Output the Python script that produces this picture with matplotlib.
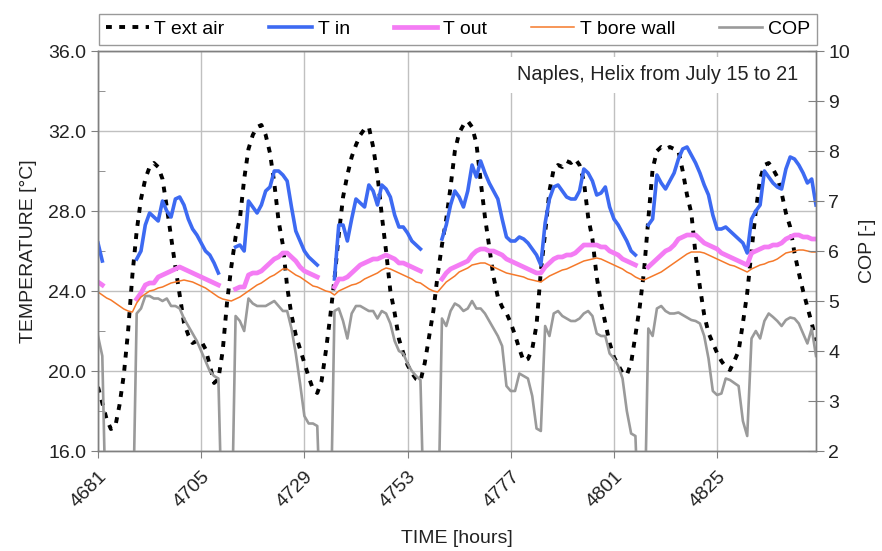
import numpy as np
import matplotlib.pyplot as plt
from matplotlib.ticker import MultipleLocator

plt.rcParams['font.family'] = ['Liberation Sans', 'DejaVu Sans']

nan = np.nan

# hourly values, 4681 .. 4848
hours = np.arange(4681, 4849)

t_ext_air = [
    19.2, 18.4, 17.6, 17.1, 17.2, 18.3, 19.8, 22.0, 24.8, 27.0, 28.6, 29.6,
    30.2, 30.4, 30.2, 29.6, 28.2, 26.7, 25.2, 23.8, 22.4, 21.8, 21.4, 21.5,
    21.5, 21.1, 20.3, 19.4, 19.6, 21.0, 23.4, 25.2, 26.7, 27.6, 29.6, 31.1,
    31.8, 32.2, 32.3, 31.8, 30.9, 29.4, 27.5, 26.3, 24.2, 22.8, 21.8, 21.1,
    20.4, 19.7, 19.1, 18.9, 19.5, 21.0, 22.7, 24.6, 26.8, 28.7, 29.8, 30.7,
    31.3, 31.8, 32.1, 32.2, 31.2, 29.8, 27.8, 26.0, 24.0, 22.9, 21.6, 20.9,
    20.3, 19.9, 19.6, 19.5, 20.4, 21.7, 23.0, 24.8, 26.3, 27.6, 29.2, 31.0,
    31.9, 32.3, 32.5, 32.2, 31.4, 29.5, 27.7, 26.2, 24.7, 23.7, 23.2, 22.9,
    22.4, 21.8, 21.1, 20.5, 20.6, 21.1, 22.3, 25.0, 26.9, 29.0, 30.1, 30.3,
    30.2, 30.5, 30.4, 30.6, 30.3, 29.5, 27.7, 26.6, 24.7, 23.4, 22.4, 21.4,
    20.7, 20.3, 19.9, 19.8, 20.4, 21.8, 23.2, 25.0, 27.6, 30.1, 31.0, 31.2,
    31.1, 31.2, 31.1, 31.0, 30.0, 28.8, 27.9, 25.8, 24.2, 22.8, 21.9, 21.4,
    20.9, 20.5, 20.2, 20.05, 20.5, 21.0, 22.4, 23.9, 26.0, 28.0, 29.6, 30.3,
    30.4, 30.1, 29.7, 28.9, 27.9, 27.2, 25.9, 24.9, 24.0, 23.2, 22.4, 21.5,
]

# heat pump off -> no value
t_in = [
    26.4, 25.5, nan, nan, nan, nan, nan, nan, nan, 25.6, 26.0, 27.3,
    27.9, 27.7, 27.5, 28.5, 28.0, 27.7, 28.6, 28.7, 28.3, 27.6, 27.1, 26.8,
    26.4, 26.0, 25.8, 25.4, 24.9, nan, nan, nan, 26.2, 26.3, 26.0, 28.5,
    28.2, 27.9, 28.3, 29.0, 29.2, 30.0, 30.0, 29.8, 29.5, 28.2, 27.0, 26.5,
    26.0, 25.7, 25.5, 25.3, nan, nan, nan, 24.6, 27.3, 27.3, 26.5, 27.6,
    28.6, 28.4, 28.2, 29.3, 29.0, 28.3, 29.3, 29.1, 28.7, 27.8, 27.2, 27.2,
    26.9, 26.5, 26.3, 26.1, nan, nan, nan, nan, 26.6, 27.3, 28.3, 29.0,
    28.7, 28.2, 29.0, 30.3, 29.7, 30.5, 29.9, 29.4, 29.0, 28.6, 27.6, 26.7,
    26.5, 26.5, 26.7, 26.6, 26.4, 26.1, 25.8, 25.3, 27.4, 28.6, 29.2, 29.3,
    29.0, 28.7, 28.6, 28.6, 29.0, 30.1, 29.9, 29.5, 28.8, 28.9, 29.2, 28.2,
    27.6, 27.3, 26.9, 26.5, 26.0, 25.8, nan, nan, 27.3, 27.6, 29.8, 29.4,
    29.1, 29.5, 29.9, 30.6, 31.1, 31.2, 30.8, 30.4, 29.9, 29.3, 28.8, 27.8,
    27.1, 27.1, 27.2, 27.0, 26.8, 26.6, 26.4, 25.9, 27.6, 28.0, 28.3, 30.0,
    29.7, 29.4, 29.2, 29.1, 30.1, 30.7, 30.6, 30.3, 29.9, 29.4, 29.6, 28.3,
]

t_out = [
    24.45, 24.3, nan, nan, nan, nan, nan, nan, nan, 23.6, 23.9, 24.3,
    24.4, 24.4, 24.7, 24.8, 24.9, 25.0, 25.1, 25.2, 25.1, 25.0, 24.9, 24.8,
    24.7, 24.6, 24.5, 24.4, 24.3, nan, nan, nan, 24.1, 24.2, 24.2, 24.8,
    24.9, 24.9, 25.0, 25.2, 25.4, 25.6, 25.7, 25.9, 25.9, 25.7, 25.5, 25.2,
    25.0, 24.9, 24.8, 24.7, nan, nan, nan, 24.2, 24.6, 24.6, 24.7, 24.9,
    25.1, 25.3, 25.4, 25.5, 25.6, 25.6, 25.7, 25.8, 25.7, 25.6, 25.4, 25.4,
    25.3, 25.2, 25.1, 25.0, nan, nan, nan, nan, 24.6, 24.9, 25.1, 25.2,
    25.3, 25.4, 25.5, 25.8, 26.0, 26.1, 26.1, 26.0, 26.0, 25.9, 25.8, 25.6,
    25.5, 25.4, 25.3, 25.2, 25.1, 25.0, 24.9, 24.9, 25.2, 25.4, 25.6, 25.7,
    25.7, 25.8, 25.8, 25.9, 26.1, 26.3, 26.3, 26.3, 26.3, 26.2, 26.2, 26.0,
    25.9, 25.8, 25.6, 25.5, 25.4, 25.3, nan, nan, 25.2, 25.4, 25.6, 25.8,
    26.0, 26.1, 26.3, 26.6, 26.7, 26.8, 26.8, 26.8, 26.6, 26.4, 26.3, 26.2,
    26.1, 25.9, 25.8, 25.7, 25.6, 25.5, 25.4, 25.3, 25.9, 26.0, 26.1, 26.2,
    26.2, 26.3, 26.3, 26.4, 26.6, 26.7, 26.8, 26.8, 26.7, 26.7, 26.6, 26.6,
]

t_bore_wall = [
    23.95, 23.8, 23.65, 23.55, 23.4, 23.25, 23.1, 23.0, 22.95, 23.4, 23.7, 23.85,
    24.0, 24.05, 24.15, 24.2, 24.3, 24.4, 24.45, 24.5, 24.55, 24.5, 24.45, 24.35,
    24.25, 24.15, 24.0, 23.85, 23.7, 23.6, 23.55, 23.5, 23.6, 23.7, 23.85, 24.0,
    24.15, 24.3, 24.4, 24.55, 24.7, 24.8, 24.95, 25.1, 25.1, 24.95, 24.8, 24.7,
    24.55, 24.4, 24.25, 24.2, 24.1, 24.0, 23.95, 23.8, 24.0, 24.1, 24.2, 24.3,
    24.35, 24.45, 24.6, 24.7, 24.8, 24.9, 25.05, 25.15, 25.1, 25.0, 24.9, 24.8,
    24.7, 24.6, 24.45, 24.4, 24.25, 24.1, 24.0, 23.95, 24.2, 24.45, 24.6, 24.75,
    24.95, 25.05, 25.15, 25.3, 25.35, 25.4, 25.4, 25.3, 25.2, 25.1, 25.0, 24.9,
    24.85, 24.8, 24.75, 24.7, 24.6, 24.55, 24.5, 24.45, 24.6, 24.75, 24.85, 24.95,
    25.05, 25.1, 25.2, 25.3, 25.4, 25.5, 25.55, 25.6, 25.65, 25.6, 25.5, 25.4,
    25.3, 25.2, 25.1, 24.95, 24.85, 24.7, 24.6, 24.55, 24.65, 24.75, 24.85, 24.95,
    25.1, 25.25, 25.4, 25.55, 25.7, 25.85, 25.95, 25.95, 25.95, 25.9, 25.8, 25.7,
    25.6, 25.5, 25.4, 25.3, 25.25, 25.15, 25.05, 24.95, 25.1, 25.2, 25.3, 25.35,
    25.45, 25.5, 25.6, 25.75, 25.9, 25.95, 26.0, 26.05, 26.05, 26.0, 25.95, 25.95,
]

# COP is 0 while the heat pump is off (falls below the axis)
cop = [
    4.3, 3.9, 0, 0, 0, 0, 0, 0, 0, 4.75, 4.85, 5.1,
    5.1, 5.05, 5.05, 5.0, 5.05, 4.9, 4.9, 4.85, 4.65, 4.5, 4.35, 4.2,
    4.0, 3.8, 3.6, 3.5, 3.45, 0, 0, 0, 4.7, 4.6, 4.4, 5.05,
    4.95, 4.9, 4.9, 4.9, 4.95, 5.0, 4.9, 4.8, 4.8, 4.45, 3.95, 3.35,
    2.7, 2.55, 2.55, 2.5, 0, 0, 0, 4.8, 4.85, 4.6, 4.25, 4.75,
    4.9, 4.9, 4.85, 4.8, 4.8, 4.65, 4.8, 4.75, 4.55, 4.2, 4.0, 3.95,
    3.75, 3.6, 3.5, 3.42, 0, 0, 0, 0, 4.65, 4.5, 4.8, 4.95,
    4.9, 4.8, 4.85, 5.0, 4.85, 4.85, 4.75, 4.6, 4.45, 4.3, 4.1, 3.3,
    3.2, 3.2, 3.55, 3.5, 3.45, 3.1, 2.45, 2.4, 4.5, 4.3, 4.75, 4.8,
    4.7, 4.65, 4.6, 4.6, 4.65, 4.75, 4.8, 4.7, 4.35, 4.3, 4.3, 3.95,
    3.85, 3.7, 3.45, 2.8, 2.35, 2.3, 0, 0, 4.45, 4.3, 4.85, 4.9,
    4.8, 4.75, 4.75, 4.77, 4.72, 4.67, 4.62, 4.6, 4.55, 4.3, 3.85, 3.2,
    3.12, 3.15, 3.45, 3.42, 3.36, 3.3, 2.6, 2.3, 4.25, 4.4, 4.25, 4.6,
    4.75, 4.68, 4.6, 4.5, 4.62, 4.67, 4.65, 4.55, 4.35, 4.15, 4.45, 3.9,
]

x_ticks = [4681, 4705, 4729, 4753, 4777, 4801, 4825]

fig = plt.figure(figsize=(8.82, 5.51), dpi=100)
ax = fig.add_axes([98 / 882, 1 - 451 / 551, 718 / 882, 400 / 551])
ax2 = ax.twinx()

l1, = ax.plot(hours, t_ext_air, color='black', lw=2.8, ls=(0, (1.5, 1.9)), label='T ext air')
l2, = ax.plot(hours, t_in, color='#3D6AF2', lw=2.6, label='T in')
l3, = ax.plot(hours, t_out, color='#F47CF4', lw=3.4, label='T out')
l4, = ax.plot(hours, t_bore_wall, color='#F5792A', lw=1.1, label='T bore wall')
l5, = ax2.plot(hours, cop, color='#9A9A9A', lw=1.9, label='COP')

grey = '#808080'
fs = 14
ax.set_xlim(4681, 4848)
ax.set_ylim(16, 36)
ax2.set_ylim(2, 10)
ax.set_xticks(x_ticks)
ax.set_xticklabels([str(v) for v in x_ticks], rotation=45, ha='right', rotation_mode='anchor')
ax.yaxis.set_major_locator(MultipleLocator(4))
ax.yaxis.set_minor_locator(MultipleLocator(2))
ax.yaxis.set_major_formatter(lambda v, p: f'{v:.1f}')
ax2.yaxis.set_major_locator(MultipleLocator(1))

ax.grid(True, which='major', color='#C0C0C0', lw=1)
ax.tick_params(axis='both', which='major', labelsize=fs, colors=grey, labelcolor='#222222',
               length=5, direction='out')
ax.tick_params(axis='y', which='minor', direction='in', length=5, colors=grey)
ax.tick_params(axis='x', pad=7)
ax2.tick_params(axis='y', which='major', labelsize=fs, direction='inout', length=12,
                colors=grey, labelcolor='#222222', pad=3)
for a in (ax, ax2):
    for s in a.spines.values():
        s.set_color(grey)
        s.set_linewidth(1)

ax.set_ylabel('TEMPERATURE [°C]', fontsize=fs, color='#222222', labelpad=8)
ax.set_xlabel('TIME [hours]', fontsize=fs, color='#222222', labelpad=14)
ax2.set_ylabel('COP [-]', fontsize=fs, color='#222222', labelpad=6)

ax.text(0.975, 0.94, 'Naples, Helix from July 15 to 21', transform=ax.transAxes,
        ha='right', va='center', fontsize=14.3, color='#222222', zorder=5,
        bbox=dict(facecolor='white', edgecolor='none', pad=6))

fig.legend(handles=[l1, l2, l3, l4, l5], loc='lower left', ncol=5, mode='expand',
           bbox_to_anchor=(99 / 882, 1 - 45 / 551, 718 / 882, 37 / 551),
           fontsize=fs, frameon=True, fancybox=False, edgecolor=grey,
           handlelength=2.2, handletextpad=0.3, borderaxespad=0, borderpad=0.35)

fig.savefig('out.png', dpi=100)
